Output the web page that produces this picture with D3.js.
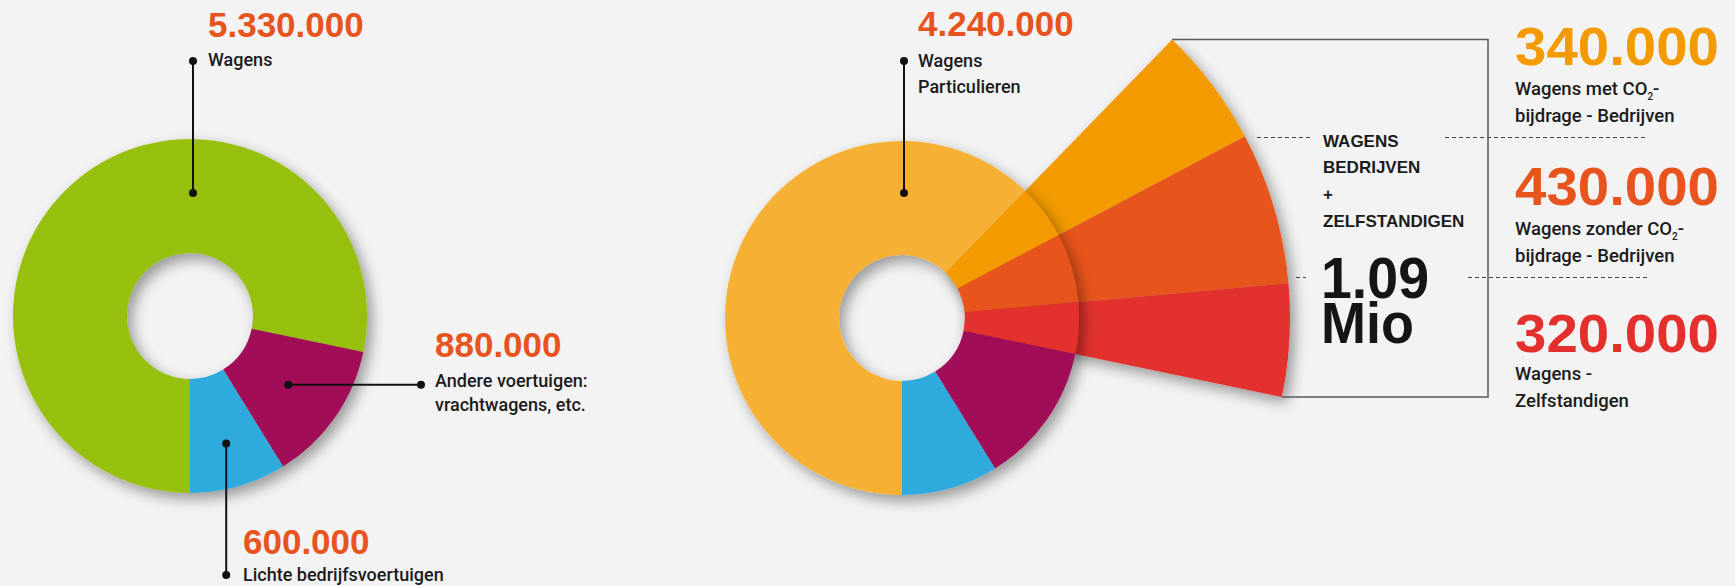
<!DOCTYPE html>
<html><head><meta charset="utf-8">
<script src="https://cdn.jsdelivr.net/npm/d3@7"></script>
<style>
html,body{margin:0;padding:0;background:#f3f3f3;}
svg{display:block;}
</style></head>
<body>
<script>
// ---- data ----
const leftCategories = ["Wagens", "Andere voertuigen: vrachtwagens, etc.", "Lichte bedrijfsvoertuigen"];
const leftValues = [5330000, 880000, 600000];
const leftColors = ["#97bf0d", "#a20c59", "#2eaadc"];

const rightCategories = ["Wagens Particulieren", "Wagens met CO2-bijdrage - Bedrijven", "Wagens zonder CO2-bijdrage - Bedrijven", "Wagens - Zelfstandigen", "Andere voertuigen", "Lichte bedrijfsvoertuigen"];
const rightValues = [4240000, 340000, 430000, 320000, 880000, 600000];
const rightColors = ["#f6b134", "#f29a00", "#e8541e", "#e3302d", "#a20c59", "#2eaadc"];
const fanIndices = [1, 2, 3];

const boxTitle = ["WAGENS", "BEDRIJVEN", "+", "ZELFSTANDIGEN"];
const fanLabels = [["Wagens met CO|2|-", "bijdrage - Bedrijven"], ["Wagens zonder CO|2|-", "bijdrage - Bedrijven"], ["Wagens -", "Zelfstandigen"]];

// ---- setup ----
const W = 1735, H = 586;
const fmt = d3.formatLocale({decimal: ",", thousands: ".", grouping: [3], currency: ["€", ""]}).format(",");
const svg = d3.select("body").append("svg").attr("width", W).attr("height", H);
svg.append("rect").attr("width", W).attr("height", H).attr("fill", "#f3f3f3");

const defs = svg.append("defs");
const f = defs.append("filter").attr("id", "shadow").attr("x", "-30%").attr("y", "-30%").attr("width", "170%").attr("height", "170%");
f.append("feDropShadow").attr("dx", 5).attr("dy", 6).attr("stdDeviation", 7).attr("flood-color", "#000").attr("flood-opacity", 0.38);

const NUM_FONT = "'Liberation Sans', Arial, sans-serif";
const LBL_FONT = "Roboto, 'Liberation Sans', sans-serif";
const numColor = "#e8541e";
const ink = "#1b1b1b";

const pie = d3.pie().sort(null).startAngle(Math.PI).endAngle(3 * Math.PI);
const rIn = 63, rOut = 177, rFan = 388;
const arc = d3.arc().innerRadius(rIn).outerRadius(rOut);
const pt = (cx, cy, r, a) => [cx + r * Math.sin(a), cy - r * Math.cos(a)];

function dot(g, x, y) { g.append("circle").attr("cx", x).attr("cy", y).attr("r", 4).attr("fill", "#111"); }
function line(g, x1, y1, x2, y2) { g.append("line").attr("x1", x1).attr("y1", y1).attr("x2", x2).attr("y2", y2).attr("stroke", "#111").attr("stroke-width", 2); }
function num(g, x, y, t, size, color, len) {
  const tx = g.append("text").attr("x", x).attr("y", y).attr("font-family", NUM_FONT).attr("font-weight", "bold")
    .attr("font-size", size).attr("fill", color).text(t);
  if (len) tx.attr("textLength", len).attr("lengthAdjust", "spacingAndGlyphs");
  return tx;
}
function lbl(g, x, y, t, size) {
  const tx = g.append("text").attr("x", x).attr("y", y).attr("font-family", LBL_FONT).attr("font-weight", 500)
    .attr("font-size", size || 18).attr("fill", ink);
  const parts = t.split("|");
  parts.forEach((p, i) => {
    const ts = tx.append("tspan").text(p);
    if (i % 2 === 1) ts.attr("font-size", 10).attr("dy", 5);
    else if (i > 0) ts.attr("dy", -5);
  });
  return tx;
}

// ---- left donut ----
const L = {cx: 190, cy: 316};
const lArcs = pie(leftValues);
const gL = svg.append("g").attr("transform", `translate(${L.cx},${L.cy})`);
gL.append("g").attr("filter", "url(#shadow)").selectAll("path").data(lArcs).join("path")
  .attr("d", arc).attr("fill", (d, i) => leftColors[i]);

const gLL = svg.append("g");
// Wagens
{
  const [x, y] = [L.cx + 3, L.cy - 123];
  line(gLL, x, y, x, 61); dot(gLL, x, y); dot(gLL, x, 61);
  num(gLL, 208, 37, fmt(leftValues[0]), 35, numColor);
  lbl(gLL, 208, 66, "Wagens");
}
// Andere voertuigen
{
  const c = d3.arc().innerRadius(110).outerRadius(130).centroid(lArcs[1]);
  const x = L.cx + c[0], y = L.cy + c[1];
  line(gLL, x, y, 421, y); dot(gLL, x, y); dot(gLL, 421, y);
  num(gLL, 435, 357, fmt(leftValues[1]), 35, numColor);
  lbl(gLL, 435, 387, "Andere voertuigen:");
  lbl(gLL, 435, 411, "vrachtwagens, etc.");
}
// Lichte bedrijfsvoertuigen
{
  const c = d3.arc().innerRadius(125).outerRadius(140).centroid(lArcs[2]);
  const x = L.cx + c[0], y = L.cy + c[1];
  line(gLL, x, y, x, 575); dot(gLL, x, y); dot(gLL, x, 575);
  num(gLL, 243, 554, fmt(leftValues[2]), 35, numColor);
  lbl(gLL, 243, 581, "Lichte bedrijfsvoertuigen");
}

// ---- right donut + fan ----
const R = {cx: 902, cy: 318};
const rArcs = pie(rightValues);
const gR = svg.append("g").attr("transform", `translate(${R.cx},${R.cy})`);
const fanArc = d3.arc().innerRadius(rIn).outerRadius(rFan);
gR.append("g").attr("filter", "url(#shadow)").selectAll("path").data(fanIndices.map(i => rArcs[i])).join("path")
  .attr("d", fanArc).attr("fill", (d, i) => rightColors[fanIndices[i]]);
gR.append("g").attr("filter", "url(#shadow)").selectAll("path").data(rArcs).join("path")
  .attr("d", arc).attr("fill", (d, i) => rightColors[i]);

const gRL = svg.append("g");
{
  const [x, y] = [R.cx + 2, R.cy - 125];
  line(gRL, x, y, x, 61); dot(gRL, x, y); dot(gRL, x, 61);
  num(gRL, 918, 36, fmt(rightValues[0]), 35, numColor);
  lbl(gRL, 918, 67, "Wagens");
  lbl(gRL, 918, 93, "Particulieren");
}

// box around fan
const fanFirst = rArcs[fanIndices[0]], fanLast = rArcs[fanIndices[fanIndices.length - 1]];
const tipTop = pt(R.cx, R.cy, rFan, fanFirst.startAngle);
const tipBot = pt(R.cx, R.cy, rFan, fanLast.endAngle);
const boxRight = 1488;
const gB = svg.append("g").attr("fill", "none").attr("stroke", "#5a5a5a").attr("stroke-width", 1.5);
gB.append("path").attr("d", `M${tipTop[0]},${tipTop[1]}H${boxRight}V${tipBot[1]}H${tipBot[0]}`);

// dashed separators between fan segments
const gD = svg.append("g").attr("stroke", "#444").attr("stroke-width", 1).attr("stroke-dasharray", "4,3");
const sepY = [137.5, 277.5];
{
  const p = pt(R.cx, R.cy, rFan, rArcs[fanIndices[0]].endAngle);
  gD.append("line").attr("x1", p[0] + 12).attr("x2", 1312).attr("y1", sepY[0]).attr("y2", sepY[0]);
  gD.append("line").attr("x1", 1445).attr("x2", 1648).attr("y1", sepY[0]).attr("y2", sepY[0]);
  gD.append("line").attr("x1", 1296).attr("x2", 1306).attr("y1", sepY[1]).attr("y2", sepY[1]);
  gD.append("line").attr("x1", 1468).attr("x2", 1650).attr("y1", sepY[1]).attr("y2", sepY[1]);
}

// box text
const gT = svg.append("g");
const titleY = [147, 173, 200, 227];
boxTitle.forEach((t, i) => {
  gT.append("text").attr("x", 1323).attr("y", titleY[i]).attr("font-family", NUM_FONT).attr("font-weight", "bold")
    .attr("font-size", 17).attr("fill", ink).text(t);
});
const fanTotal = d3.sum(fanIndices.map(i => rightValues[i]));
{
  const big = gT.append("text").attr("font-family", NUM_FONT).attr("font-weight", "bold")
    .attr("font-size", 57).attr("fill", "#151515");
  big.append("tspan").attr("x", 1321).attr("y", 298).attr("textLength", 108).attr("lengthAdjust", "spacingAndGlyphs")
    .text(d3.format(".2f")(fanTotal / 1e6));
  big.append("tspan").attr("x", 1321).attr("y", 343).attr("textLength", 93).attr("lengthAdjust", "spacingAndGlyphs")
    .text("Mio");
}

// fan labels on the right
const valY = [65, 205, 352];
const l1Y = [95, 235, 380];
const l2Y = [122, 262, 407];
fanIndices.forEach((idx, k) => {
  num(gT, 1515, valY[k], fmt(rightValues[idx]), 53, rightColors[idx], 204);
  lbl(gT, 1515, l1Y[k], fanLabels[k][0], 18.5);
  lbl(gT, 1515, l2Y[k], fanLabels[k][1], 18.5);
});
</script>
</body></html>
